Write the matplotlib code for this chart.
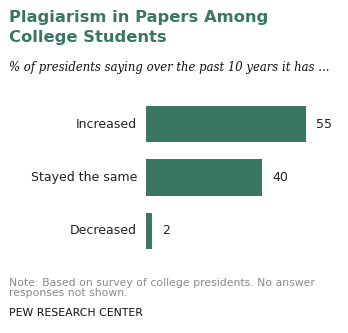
import matplotlib.pyplot as plt

categories = ['Increased', 'Stayed the same', 'Decreased']
values = [55, 40, 2]

title = 'Plagiarism in Papers Among\nCollege Students'
subtitle = '% of presidents saying over the past 10 years it has ...'
note = 'Note: Based on survey of college presidents. No answer\nresponses not shown.'
source = 'PEW RESEARCH CENTER'

green = '#3a7664'
W, H = 348, 333

fig = plt.figure(figsize=(W / 100, H / 100), dpi=100)

# axes placed in pixel units: bars start at x=146, 60 units wide ~ 175 px
left, right = 146, 146 + 174.5
top, bottom = 97.5, 257.5
ax = fig.add_axes([left / W, 1 - bottom / H, (right - left) / W, (bottom - top) / H])

pos = range(len(categories))
ax.barh(pos, values, height=0.68, color=green)
ax.set_xlim(0, 60)
ax.set_ylim(2.5, -0.5)
ax.axis('off')

for i, (c, v) in enumerate(zip(categories, values)):
    ax.text(-3.1, i, c, ha='right', va='center', fontsize=9, color='#222222')
    ax.text(v + 3.4, i, str(v), ha='left', va='center', fontsize=9, color='#222222')

fig.text(9 / W, 1 - 10 / H, title, ha='left', va='top', fontsize=11.8,
         fontweight='bold', color=green, linespacing=1.45)
fig.text(9 / W, 1 - 68 / H, subtitle, ha='left', va='center', fontsize=8.4,
         style='italic', family='DejaVu Serif', color='#111111')
fig.text(9 / W, 1 - 278 / H, note, ha='left', va='top', fontsize=7.8,
         color='#8a8a8a', linespacing=1.05)
fig.text(9 / W, 1 - 313 / H, source, ha='left', va='center', fontsize=7.8,
         color='#111111')

fig.savefig('out.png', dpi=100)
